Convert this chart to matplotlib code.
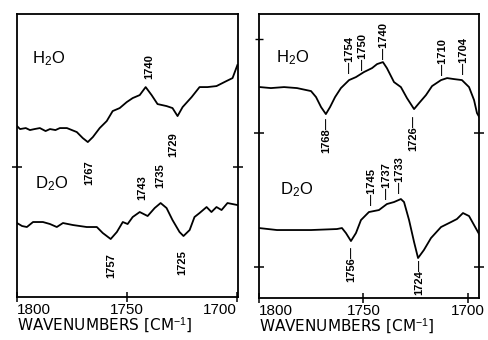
import matplotlib.pyplot as plt

plt.rcParams["font.family"] = ["Liberation Sans", "DejaVu Sans"]
plt.rcParams["mathtext.fontset"] = "custom"
plt.rcParams["mathtext.rm"] = "Liberation Sans"
plt.rcParams["mathtext.it"] = "Liberation Sans"

# ---- data (wavenumber in cm-1, absorbance difference in arbitrary units) ----
left_h2o_wn = [1800, 1798.6, 1796, 1794.1, 1792, 1789.6, 1787, 1785, 1782.5, 1780.5, 1777.3,
               1772.8, 1770.1, 1767.8, 1765.5, 1762.4, 1759.2, 1756.5, 1753.3, 1750.1,
               1747.4, 1744.2, 1741.5, 1738.8, 1736.1, 1732, 1729.3, 1727, 1724.7, 1720.6,
               1717, 1713.4, 1709.3, 1704.8, 1702, 1699.8]
left_h2o_abs = [171, 168, 169, 167, 168, 169, 166, 168, 167, 169, 169,
                165, 159, 155, 160, 169, 176, 186, 189, 195,
                199, 202, 210, 202, 193, 191, 189, 181, 190, 200,
                210, 210, 211, 216, 219, 232]

left_d2o_wn = [1800, 1797.7, 1795.5, 1792.7, 1788.2, 1785, 1781.9, 1779.1, 1774.6, 1768.3,
               1763.7, 1761, 1757.4, 1754.6, 1751.9, 1749.7, 1747.4, 1744.2, 1740.6, 1737.4,
               1734.7, 1732, 1729.3, 1726.1, 1724.3, 1721.5, 1719.3, 1717, 1713.8, 1711.6,
               1709.3, 1707, 1704.3, 1699.8]
left_d2o_abs = [74, 71, 70, 75, 75, 73, 70, 74, 72, 70,
                70, 64, 58, 65, 75, 73, 80, 85, 81, 89,
                94, 89, 77, 65, 61, 67, 80, 84, 90, 85,
                90, 87, 94, 92]

right_h2o_wn = [1799.5, 1794.3, 1788, 1781.8, 1775.1, 1772.7, 1770.3, 1768, 1766, 1763.6,
                1760.8, 1756.9, 1753.6, 1749.8, 1745.9, 1743.5, 1740.7, 1738.8, 1735.4, 1732.1,
                1729.2, 1725.8, 1723.4, 1720.1, 1717.2, 1712.9, 1710, 1706.7, 1702.9, 1699.5,
                1697.1, 1695.7, 1694.6]
right_h2o_abs = [211, 210, 211, 210, 207, 201, 191, 184, 191, 201,
                 210, 218, 221, 226, 230, 234, 236, 230, 216, 211,
                 200, 189, 195, 203, 212, 218, 220, 219, 218, 211,
                 198, 185, 181]

right_d2o_wn = [1800, 1791.4, 1775.1, 1762.7, 1760.3, 1758.4, 1756, 1753.6, 1751.2, 1747.4,
                1742.6, 1738.8, 1735.4, 1732.1, 1730.6, 1728.2, 1725.8, 1723.9, 1721.1, 1717.7,
                1712.9, 1708.1, 1705.3, 1702.4, 1699.5, 1697.1, 1694.7]
right_d2o_abs = [70, 68, 68, 69, 70, 65, 57, 65, 78, 86,
                 88, 94, 96, 99, 96, 78, 56, 40, 48, 60,
                 71, 76, 79, 85, 82, 73, 64]

# band labels
left_bands = [1740, 1767, 1729, 1743, 1735, 1757, 1725]
left_band_y = [231, 124, 152, 109, 121, 31, 34]

right_bands = [1768, 1754, 1750, 1740, 1726, 1710, 1704, 1756, 1745, 1737, 1733, 1724]
right_band_y = [163, 243, 246, 257, 165, 241, 242, 34, 111, 117, 123, 21]
right_band_above = [False, True, True, True, False, True, True, False, True, True, True, False]
right_band_shift = [0, 2.5, 0, 0, 0, 2, -2, 0, 1, 1.8, -0.5, -0.5]

x_ticks = [1800, 1750, 1700]

fig = plt.figure(figsize=(4.88, 3.40), dpi=100)
ax1 = fig.add_axes([0.0348, 0.1265, 0.453, 0.832])
ax2 = fig.add_axes([0.5307, 0.1235, 0.451, 0.835])

lw = 1.3
ax1.plot(left_h2o_wn, left_h2o_abs, color="black", lw=lw)
ax1.plot(left_d2o_wn, left_d2o_abs, color="black", lw=lw)
ax2.plot(right_h2o_wn, right_h2o_abs, color="black", lw=lw)
ax2.plot(right_d2o_wn, right_d2o_abs, color="black", lw=lw)

ax1.set_xlim(1800, 1699.5)
ax1.set_ylim(0, 283)
ax2.set_xlim(1800, 1694.7)
ax2.set_ylim(0, 284)

for wn, y in zip(left_bands, left_band_y):
    ax1.text(wn, y, str(wn), rotation=90, ha="center", va="center",
             fontsize=8, fontweight="bold")

for wn, y, above, dx in zip(right_bands, right_band_y, right_band_above, right_band_shift):
    s = "\u2014" + str(wn) if above else str(wn) + "\u2014"
    ax2.text(wn + dx, y, s, rotation=90, ha="center", va="center",
             fontsize=8, fontweight="bold")

ax1.text(1793, 238, "H$_2$O", fontsize=12, va="center")
ax1.text(1792, 113, "D$_2$O", fontsize=12, va="center")
ax2.text(1792, 240, "H$_2$O", fontsize=12, va="center")
ax2.text(1790, 108, "D$_2$O", fontsize=12, va="center")

for ax, yt in [(ax1, [130]), (ax2, [31, 165])]:
    ax.set_xticks(x_ticks)
    ax.set_yticks(yt)
    ax.set_yticklabels([])
    ax.tick_params(axis="x", direction="inout", length=7, width=1.1, labelsize=11, pad=1)
    ax.tick_params(axis="y", direction="inout", length=7, width=1.1,
                   left=True, right=True)
    for sp in ax.spines.values():
        sp.set_linewidth(1.3)
    ax.set_xlabel("WAVENUMBERS [CM$^{-1}$]", fontsize=11, loc="left", labelpad=-1,
                  family="DejaVu Sans")

# small extra mark on the upper left of the right panel
ax2.plot([1800], [259], marker="_", color="black", ms=6, mew=1.0, clip_on=False)

for lab, ha in zip(ax1.get_xticklabels(), ["left", "center", "right"]):
    lab.set_ha(ha)
for lab, ha in zip(ax2.get_xticklabels(), ["left", "center", "center"]):
    lab.set_ha(ha)

fig.savefig("out.png", dpi=100)
